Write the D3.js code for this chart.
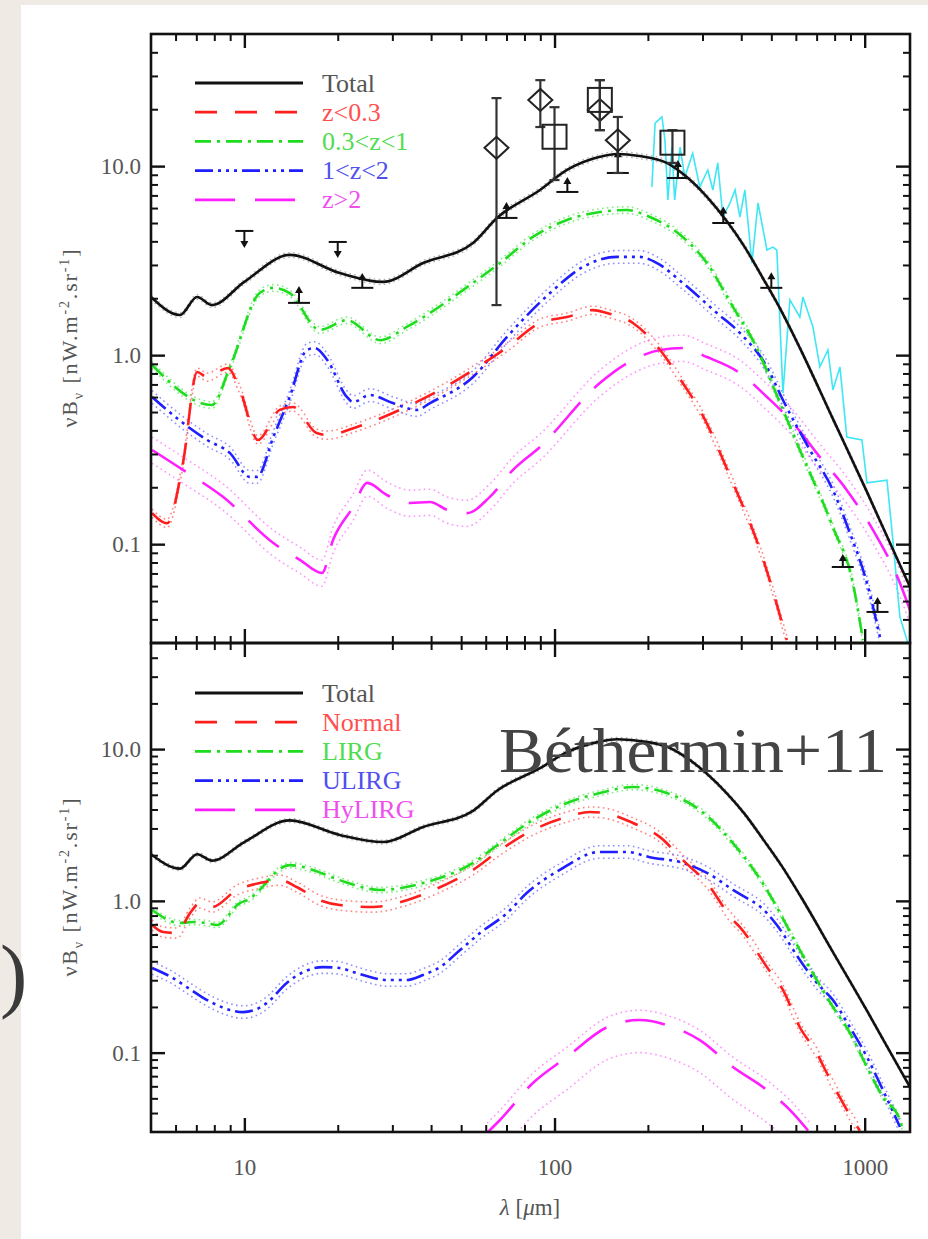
<!DOCTYPE html>
<html><head><meta charset="utf-8">
<script src="https://cdn.jsdelivr.net/npm/d3@7"></script>
<style>
html,body{margin:0;padding:0;background:#efebe4;}
svg{display:block;}
</style></head><body>
<svg id="c" width="928" height="1239"></svg>
<script>
// ---------------- DATA ----------------
// Top panel: contributions by redshift
const totLam = [5.0, 6.2, 7.04, 7.86, 10.0, 14.0, 20.3, 28.0, 37.7, 54.6, 65.2, 89.8, 109.7, 140, 159, 188, 230, 267, 310, 360, 410, 470, 540, 620, 790, 1017, 1180, 1400];
const totVal = [2.03, 1.63, 2.03, 1.84, 2.44, 3.39, 2.72, 2.44, 3.07, 3.92, 5.32, 7.48, 9.54, 11.2, 11.6, 11.3, 10.4, 8.75, 6.87, 5.09, 3.74, 2.55, 1.70, 1.08, 0.46, 0.189, 0.110, 0.0593];

const zLowLam = [5.04, 5.63, 6.34, 7.04, 7.58, 8.85, 9.68, 11.07, 13.0, 14.35, 17.1, 18.5, 23.1, 31.7, 42.7, 54.6, 70.3, 89.8, 109.7, 133, 147.6, 179, 219, 259, 294, 376, 460, 561];
const zLowVal = [0.146, 0.129, 0.269, 0.814, 0.766, 0.855, 0.654, 0.356, 0.513, 0.532, 0.387, 0.378, 0.417, 0.513, 0.654, 0.834, 1.10, 1.48, 1.59, 1.73, 1.67, 1.48, 1.065, 0.712, 0.513, 0.211, 0.0931, 0.0311];

const zMidLam = [5.04, 7.86, 8.99, 11.2, 12.4, 14.0, 17.5, 21.4, 27.4, 33.4, 54.6, 66.7, 85.2, 109.7, 140, 171, 203, 259, 310, 376, 436, 545, 618, 790, 916, 987];
const zMidVal = [0.887, 0.545, 0.866, 2.13, 2.27, 2.13, 1.36, 1.53, 1.20, 1.41, 2.41, 3.07, 4.22, 5.19, 5.72, 5.86, 5.38, 4.22, 3.07, 1.80, 1.20, 0.513, 0.315, 0.123, 0.0623, 0.0311];

const zHiLam = [5.04, 6.34, 7.58, 8.99, 10.4, 11.0, 12.4, 14.0, 15.9, 16.9, 18.5, 21.4, 22.4, 25.4, 30.1, 36.0, 39.7, 54.6, 70.3, 96.7, 123.5, 159, 188, 214, 259, 334, 396, 484, 545, 666, 790, 896, 1017, 1120];
const zHiVal = [0.601, 0.438, 0.356, 0.303, 0.227, 0.227, 0.369, 0.601, 1.065, 1.09, 0.943, 0.601, 0.565, 0.615, 0.558, 0.513, 0.558, 0.766, 1.25, 2.13, 2.93, 3.31, 3.31, 3.07, 2.41, 1.67, 1.31, 0.866, 0.579, 0.315, 0.193, 0.1146, 0.0623, 0.0323];

const zVHiLam = [5.04, 6.34, 8.53, 12.4, 15.1, 17.8, 19.3, 22.4, 24.9, 28.8, 34.2, 39.7, 45.0, 52.2, 61.9, 73.5, 89.8, 140, 179, 219, 259, 310, 396, 484, 587, 717, 876, 1063, 1299, 1400];
const zVHiVal = [0.315, 0.247, 0.178, 0.1014, 0.0825, 0.0704, 0.105, 0.157, 0.211, 0.182, 0.165, 0.167, 0.152, 0.146, 0.178, 0.247, 0.327, 0.712, 0.943, 1.065, 1.09, 0.977, 0.804, 0.601, 0.438, 0.289, 0.193, 0.119, 0.0623, 0.0448];

const firasLam = [206, 211, 222, 227, 232, 239, 244, 254, 263, 279, 294, 312, 324, 336, 349, 368, 382, 396, 411, 433, 453, 484, 506, 521, 545, 574, 618, 632, 681, 717, 761, 790, 832, 876, 980, 1017, 1180, 1233, 1299, 1400];
const firasVal = [7.76, 16.9, 18.2, 13.7, 6.62, 12.6, 6.62, 12.6, 8.76, 11.7, 7.76, 9.54, 7.48, 10.4, 5.38, 6.38, 7.48, 5.38, 7.48, 3.07, 6.38, 3.60, 3.73, 3.60, 0.630, 1.96, 1.59, 2.03, 1.41, 0.866, 1.065, 0.654, 0.866, 0.369, 0.356, 0.211, 0.218, 0.105, 0.0412, 0.0275];

// relative width of the dotted uncertainty bands (Total, z<0.3, 0.3<z<1, 1<z<2, z>2)
const bandHiTop = [1.03, 1.05, 1.04, 1.08, 1.17];
const bandLoTop = [0.97, 0.95, 0.96, 0.925, 0.85];

// measurements
const lowLimLam  = [15, 24, 70, 110, 160, 250, 350, 500, 850, 1100];
const lowLimBase = [1.89, 2.27, 5.32, 7.30, 9.2, 8.65, 5.0, 2.27, 0.0757, 0.0438];
const lowLimHead = [2.24, 2.62, 6.23, 8.44, 11.7, 10.4, 5.9, 2.65, 0.0855, 0.0506];
const upLimLam = [10, 20];
const upLimBar = [4.54, 3.97];
const upLimTip = [3.78, 3.35];
const diaLam = [65, 90, 140, 160];
const diaVal = [12.5, 22.4, 19.8, 13.7];
const diaLo  = [1.84, 16.1, 15.5, 9.2];
const diaHi  = [22.9, 28.5, 28.5, 18.2];
const sqLam = [100, 140, 240];
const sqVal = [14.3, 22.4, 13.3];
const sqLo  = [8.44, 15.5, 10.4];
const sqHi  = [20.5, 28.5, 15.5];

// Bottom panel: contributions by galaxy type (Total identical to top)
const normLam = [5.04, 5.47, 6.07, 6.68, 7.19, 7.86, 9.47, 11.2, 13.0, 14.8, 17.5, 20.3, 26.0, 33.4, 42.7, 54.6, 66.7, 85.2, 109.7, 130, 147.6, 179, 219, 259, 310, 376, 396, 484, 545, 618, 701, 755, 851, 916, 965];
const normVal = [0.693, 0.623, 0.614, 0.831, 0.968, 0.911, 1.18, 1.31, 1.37, 1.23, 1.01, 0.939, 0.911, 1.01, 1.23, 1.60, 2.16, 2.93, 3.57, 3.85, 3.76, 3.26, 2.63, 1.86, 1.31, 0.748, 0.672, 0.366, 0.259, 0.147, 0.0994, 0.0734, 0.0466, 0.036, 0.0306];

const lirgLam = [5.04, 6.20, 6.83, 7.58, 8.16, 9.68, 10.2, 14.0, 16.6, 20.3, 27.4, 37.7, 54.6, 66.7, 85.2, 109.7, 140, 179, 230, 294, 376, 484, 506, 618, 790, 896, 1017, 1145, 1299, 1328];
const lirgVal = [0.870, 0.714, 0.725, 0.714, 0.693, 0.968, 1.01, 1.72, 1.60, 1.37, 1.18, 1.31, 1.78, 2.40, 3.41, 4.41, 5.13, 5.62, 5.13, 3.97, 2.40, 1.18, 1.01, 0.474, 0.200, 0.135, 0.0804, 0.0510, 0.036, 0.0306];

const ulirgLam = [5.04, 5.89, 6.58, 7.30, 7.92, 8.99, 9.90, 10.8, 11.8, 13.7, 15.5, 17.9, 20.3, 22.4, 25.4, 28.8, 33.4, 37.7, 42.7, 49.6, 57.5, 70.3, 81.5, 104, 140, 171, 203, 259, 310, 376, 484, 521, 618, 701, 790, 896, 1017, 1145, 1299];
const ulirgVal = [0.361, 0.310, 0.267, 0.2325, 0.212, 0.191, 0.185, 0.191, 0.212, 0.288, 0.340, 0.366, 0.361, 0.340, 0.315, 0.301, 0.301, 0.325, 0.366, 0.474, 0.614, 0.831, 1.13, 1.60, 2.10, 2.10, 1.94, 1.78, 1.53, 1.18, 0.831, 0.693, 0.408, 0.288, 0.222, 0.147, 0.0936, 0.0567, 0.0324];

const hylirgLam = [60.6, 66.7, 85.2, 109.7, 147.6, 188, 230, 294, 376, 484, 587, 666];
const hylirgVal = [0.0296, 0.036, 0.0631, 0.0936, 0.147, 0.164, 0.152, 0.121, 0.0804, 0.0567, 0.040, 0.0296];

// (Total, Normal, LIRG, ULIRG, HyLIRG)
const bandHiBot = [1.03, 1.08, 1.04, 1.10, 1.16];
const bandLoBot = [0.97, 0.925, 0.96, 0.91, 0.61];

const topLegend = ["Total", "z<0.3", "0.3<z<1", "1<z<2", "z>2"];
const botLegend = ["Total", "Normal", "LIRG", "ULIRG", "HyLIRG"];
const xMajor = [10, 100, 1000];
const xMinor = [6, 7, 8, 9, 20, 30, 40, 50, 60, 70, 80, 90, 200, 300, 400, 500, 600, 700, 800, 900];
const yMajor = [0.1, 1, 10];
const yMinor = [0.04, 0.05, 0.06, 0.07, 0.08, 0.09, 0.2, 0.3, 0.4, 0.5, 0.6, 0.7, 0.8, 0.9, 2, 3, 4, 5, 6, 7, 8, 9, 20, 30, 40];

// ---------------- STYLE ----------------
const FONT = "'Liberation Serif','Times New Roman',serif";
const styles = [
  {color: "#111", text: "#555", dash: null, band: "#777"},
  {color: "#ff1e1e", text: "#ff5050", dash: "22,18", band: "#ff5a5a"},
  {color: "#1edc1e", text: "#50dc50", dash: "16,6,3,6", band: "#5ae65a"},
  {color: "#1e1eff", text: "#5050ee", dash: "18,5,3,5,3,5,3,5", band: "#6a6aff"},
  {color: "#ff1eff", text: "#ee50ee", dash: "40,20", band: "#ff70ff"}
];

const W = 928, H = 1239;
const svg = d3.select("#c");
svg.append("rect").attr("width", W).attr("height", H).attr("fill", "#efebe4");
svg.append("rect").attr("x", 21).attr("y", 5).attr("width", W - 21).attr("height", H - 5).attr("fill", "#fff");

const X0 = 151, X1 = 910;
const x = d3.scaleLog().domain([5, 1400]).range([X0, X1]);

const panels = [
  {top: 34, bottom: 643,
   series: [[totLam, totVal], [zLowLam, zLowVal], [zMidLam, zMidVal], [zHiLam, zHiVal], [zVHiLam, zVHiVal]],
   bandHi: bandHiTop, bandLo: bandLoTop, legend: topLegend, legY: 83, labels: false},
  {top: 643, bottom: 1132,
   series: [[totLam, totVal], [normLam, normVal], [lirgLam, lirgVal], [ulirgLam, ulirgVal], [hylirgLam, hylirgVal]],
   bandHi: bandHiBot, bandLo: bandLoBot, legend: botLegend, legY: 693, labels: true}
];

const defs = svg.append("defs");

panels.forEach((P, pi) => {
  const y = d3.scaleLog().domain([0.03, 50]).range([P.bottom, P.top]);
  defs.append("clipPath").attr("id", "clip" + pi)
    .append("rect").attr("x", X0).attr("y", P.top).attr("width", X1 - X0).attr("height", P.bottom - P.top);
  const g = svg.append("g").attr("clip-path", `url(#clip${pi})`);
  const line = d3.line().x(d => x(d[0])).y(d => y(d[1])).curve(d3.curveMonotoneX);

  // uncertainty bands (dotted)
  P.series.forEach((s, i) => {
    const st = styles[i];
    [P.bandHi[i], P.bandLo[i]].forEach(f => {
      g.append("path").datum(d3.zip(s[0], s[1].map(v => v * f)))
        .attr("d", line).attr("fill", "none")
        .attr("stroke", st.band).attr("stroke-width", i === 0 ? 1.2 : 1.6)
        .attr("stroke-dasharray", "1.6,3.4").attr("opacity", i === 0 ? 0.6 : 0.75);
    });
  });

  // FIRAS spectrum in the top panel
  if (pi === 0) {
    g.append("path").datum(d3.zip(firasLam, firasVal))
      .attr("d", d3.line().x(d => x(d[0])).y(d => y(d[1])))
      .attr("fill", "none").attr("stroke", "#3fe6f4").attr("stroke-width", 1.6);
  }

  // main curves (colored first, total on top)
  [4, 3, 2, 1, 0].forEach(i => {
    const s = P.series[i], st = styles[i];
    g.append("path").datum(d3.zip(s[0], s[1]))
      .attr("d", line).attr("fill", "none")
      .attr("stroke", st.color).attr("stroke-width", 2.6)
      .attr("stroke-dasharray", st.dash);
  });

  // measurements
  if (pi === 0) {
    const k = "#111";
    lowLimLam.forEach((l, i) => {
      const xx = x(l), yb = y(lowLimBase[i]), yh = y(lowLimHead[i]);
      g.append("line").attr("x1", xx - 11).attr("x2", xx + 11).attr("y1", yb).attr("y2", yb).attr("stroke", k).attr("stroke-width", 2);
      g.append("line").attr("x1", xx).attr("x2", xx).attr("y1", yb).attr("y2", yh).attr("stroke", k).attr("stroke-width", 2);
      g.append("path").attr("d", `M${xx - 4},${yh + 4}L${xx + 4},${yh + 4}L${xx},${yh - 3}Z`).attr("fill", k);
    });
    upLimLam.forEach((l, i) => {
      const xx = x(l), yb = y(upLimBar[i]), yt = y(upLimTip[i]);
      g.append("line").attr("x1", xx - 9).attr("x2", xx + 9).attr("y1", yb).attr("y2", yb).attr("stroke", k).attr("stroke-width", 2);
      g.append("line").attr("x1", xx).attr("x2", xx).attr("y1", yb).attr("y2", yt).attr("stroke", k).attr("stroke-width", 2);
      g.append("path").attr("d", `M${xx - 4},${yt - 5}L${xx + 4},${yt - 5}L${xx},${yt + 2}Z`).attr("fill", k);
    });
    const errbar = (xx, ylo, yhi) => {
      g.append("line").attr("x1", xx).attr("x2", xx).attr("y1", ylo).attr("y2", yhi).attr("stroke", "#333").attr("stroke-width", 2.2);
      [ylo, yhi].forEach(yy => g.append("line").attr("x1", xx - 5).attr("x2", xx + 5).attr("y1", yy).attr("y2", yy).attr("stroke", "#333").attr("stroke-width", 2.2));
    };
    diaLam.forEach((l, i) => {
      const xx = x(l), yy = y(diaVal[i]);
      errbar(xx, y(diaLo[i]), y(diaHi[i]));
      g.append("path").attr("d", `M${xx - 12},${yy}L${xx},${yy - 11}L${xx + 12},${yy}L${xx},${yy + 11}Z`)
        .attr("fill", "none").attr("stroke", "#222").attr("stroke-width", 2);
    });
    sqLam.forEach((l, i) => {
      const xx = x(l), yy = y(sqVal[i]);
      errbar(xx, y(sqLo[i]), y(sqHi[i]));
      g.append("rect").attr("x", xx - 12).attr("y", yy - 12).attr("width", 24).attr("height", 24)
        .attr("fill", "none").attr("stroke", "#222").attr("stroke-width", 2);
    });
  }

  // legend
  const lg = svg.append("g");
  P.legend.forEach((name, i) => {
    const st = styles[i], yy = P.legY + i * 29.2;
    lg.append("line").attr("x1", 195).attr("x2", 303).attr("y1", yy).attr("y2", yy)
      .attr("stroke", st.color).attr("stroke-width", 2.8).attr("stroke-dasharray", st.dash);
    lg.append("text").attr("x", 322).attr("y", yy + 8.5).text(name)
      .attr("font-family", FONT).attr("font-size", 26).attr("fill", st.text);
  });

  // frame
  svg.append("rect").attr("x", X0).attr("y", P.top).attr("width", X1 - X0).attr("height", P.bottom - P.top)
    .attr("fill", "none").attr("stroke", "#111").attr("stroke-width", 2.6);

  // axes (ticks inside)
  const styleAx = (sel, w) => { sel.select(".domain").remove(); sel.selectAll("line").attr("stroke", "#111").attr("stroke-width", w); };
  const ax = (gen, tr, vals, len, w) => {
    const s = svg.append("g").attr("transform", tr).call(gen.tickValues(vals).tickSize(-len).tickFormat(""));
    styleAx(s, w);
    return s;
  };
  ax(d3.axisBottom(x), `translate(0,${P.bottom})`, xMinor, 7, 2);
  ax(d3.axisTop(x), `translate(0,${P.top})`, xMinor, 7, 2);
  ax(d3.axisTop(x), `translate(0,${P.top})`, xMajor, 14, 2.4);
  ax(d3.axisLeft(y), `translate(${X0},0)`, yMinor, 7, 2);
  ax(d3.axisRight(y), `translate(${X1},0)`, yMinor, 7, 2);
  ax(d3.axisRight(y), `translate(${X1},0)`, yMajor, 14, 2.4);

  const xb = svg.append("g").attr("transform", `translate(0,${P.bottom})`)
    .call(d3.axisBottom(x).tickValues(xMajor).tickSize(-14).tickPadding(27)
      .tickFormat(P.labels ? d3.format("d") : ""));
  styleAx(xb, 2.4);
  xb.selectAll("text").attr("font-family", FONT).attr("font-size", 23).attr("fill", "#555");

  const yl = svg.append("g").attr("transform", `translate(${X0},0)`)
    .call(d3.axisLeft(y).tickValues(yMajor).tickSize(-14).tickPadding(10).tickFormat(d => d.toFixed(1)));
  styleAx(yl, 2.4);
  yl.selectAll("text").attr("font-family", FONT).attr("font-size", 23).attr("fill", "#555");

  // y title
  const cy = (P.top + P.bottom) / 2;
  const t = svg.append("text").attr("transform", `translate(77,${cy}) rotate(-90)`)
    .attr("text-anchor", "middle").attr("font-family", FONT).attr("font-size", 22).attr("fill", "#555")
    .attr("textLength", 178).attr("lengthAdjust", "spacing");
  t.append("tspan").text("\u03bdB");
  t.append("tspan").attr("font-size", 14).attr("dy", 6).text("\u03bd");
  t.append("tspan").attr("dy", -6).text(" [nW.m");
  t.append("tspan").attr("font-size", 14).attr("dy", -8).text("-2");
  t.append("tspan").attr("dy", 8).text(".sr");
  t.append("tspan").attr("font-size", 14).attr("dy", -8).text("-1");
  t.append("tspan").attr("dy", 8).text("]");
});

// x title
const xt = svg.append("text").attr("x", 530).attr("y", 1215).attr("text-anchor", "middle")
  .attr("font-family", FONT).attr("font-size", 23).attr("fill", "#555");
xt.append("tspan").attr("font-style", "italic").text("\u03bb");
xt.append("tspan").text(" [");
xt.append("tspan").attr("font-style", "italic").text("\u03bc");
xt.append("tspan").text("m]");

// overlay annotations from the slide
svg.append("text").attr("x", 499).attr("y", 772).text("B\u00e9thermin+11")
  .attr("font-family", FONT).attr("font-size", 64).attr("fill", "#444")
  .attr("textLength", 388).attr("lengthAdjust", "spacingAndGlyphs");
svg.append("text").attr("x", 0).attr("y", 1002).text(")")
  .attr("font-family", FONT).attr("font-size", 82).attr("fill", "#3a3a3a");
</script>
</body></html>
